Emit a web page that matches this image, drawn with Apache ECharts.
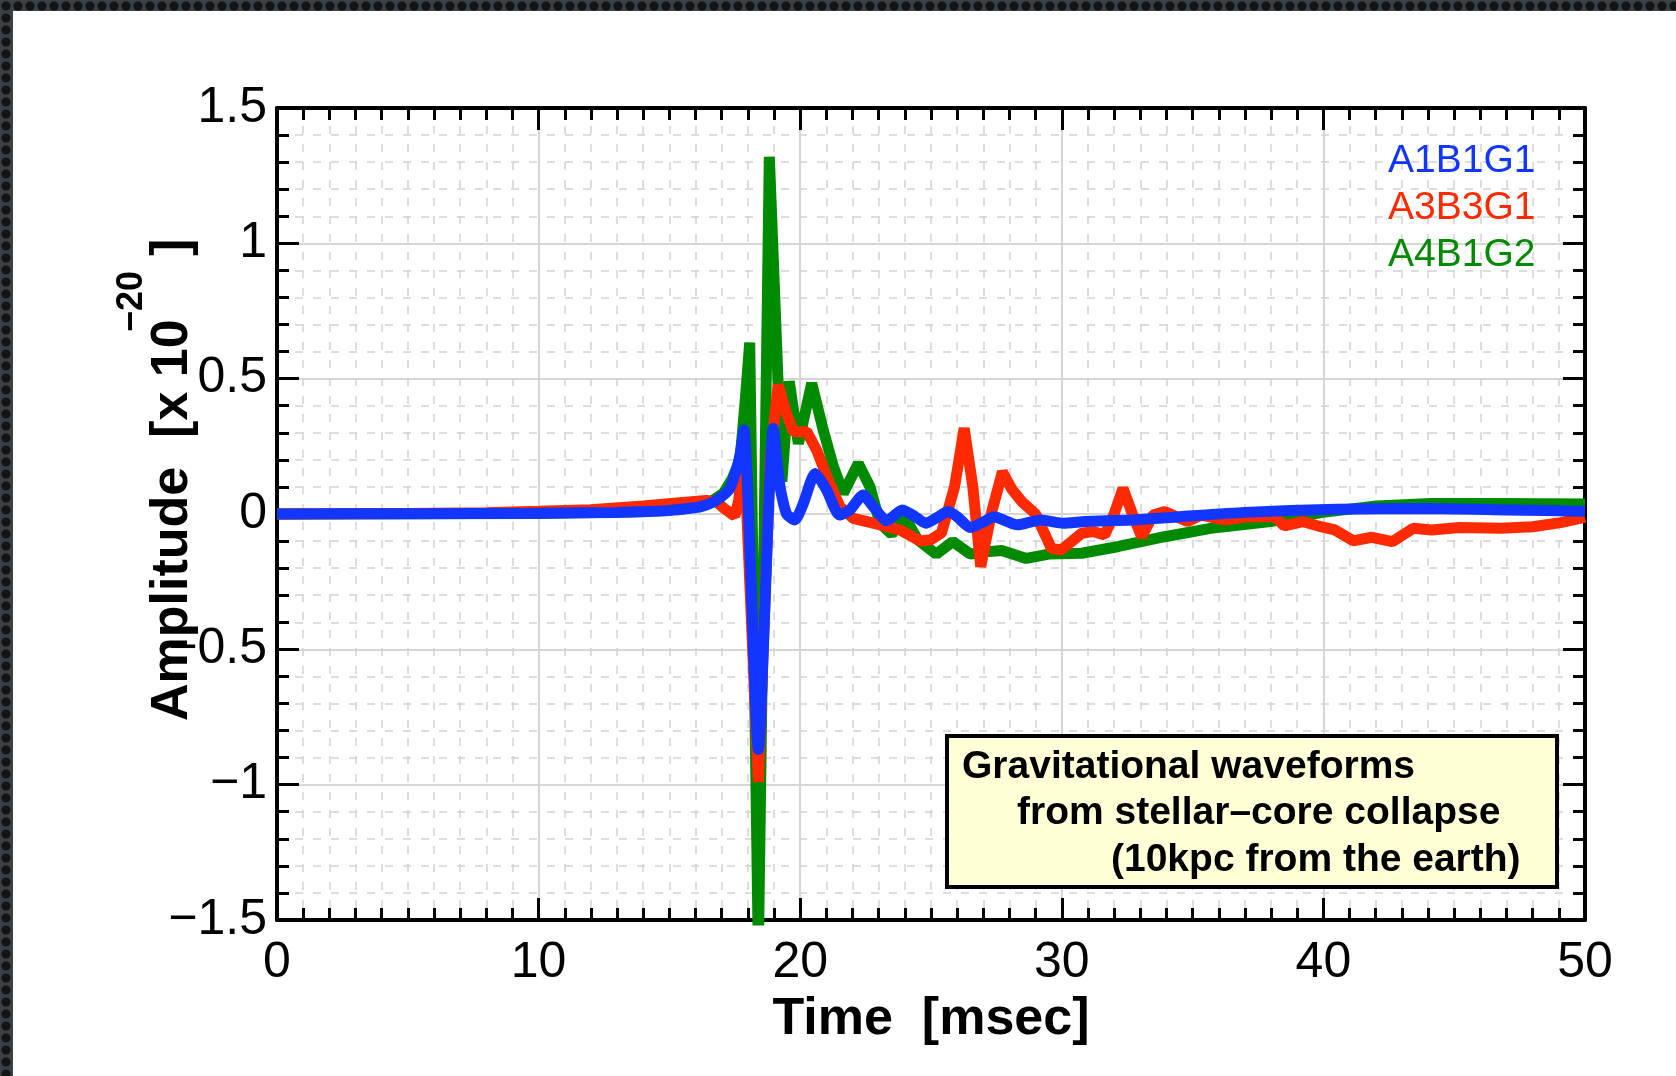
<!DOCTYPE html>
<html>
<head>
<meta charset="utf-8">
<script src="https://cdn.jsdelivr.net/npm/echarts@6/dist/echarts.min.js"></script>
<style>
html,body{margin:0;padding:0;background:#fff;overflow:hidden;}
#chart{width:1676px;height:1076px;}
</style>
</head>
<body>
<div id="chart"></div>
<script>
// ---------- data ----------
const seriesNames = ['A1B1G1', 'A3B3G1', 'A4B1G2'];

const tBlue = [0, 5, 10, 13, 14, 15, 15.8, 16.2, 16.7, 17.0, 17.3, 17.55, 17.7, 17.85, 18.4, 18.97, 19.23, 19.48, 19.8, 20.12, 20.57, 21.01, 21.5, 21.9, 22.4, 22.8, 23.3, 23.9, 24.4, 24.8, 25.2, 25.65, 26.0, 26.5, 27.0, 27.4, 28.3, 29.2, 30.05, 30.9, 32.7, 34.5, 37, 40.5, 44, 47, 50];
const vBlue = [0, 0.001, 0.003, 0.006, 0.009, 0.013, 0.021, 0.027, 0.045, 0.065, 0.092, 0.16, 0.22, 0.31, -0.87, 0.316, 0.10, 0.0, -0.022, 0.039, 0.15, 0.089, -0.004, 0.015, 0.07, 0.027, -0.025, 0.015, -0.01, -0.034, -0.015, 0.009, -0.01, -0.05, -0.03, -0.01, -0.04, -0.022, -0.034, -0.028, -0.022, -0.01, 0.006, 0.018, 0.02, 0.015, 0.01];

const tRed = [0, 5, 8, 10, 12, 14, 15.4, 16.4, 16.8, 17.1, 17.5, 17.65, 17.85, 18.4, 18.85, 19.16, 19.48, 19.74, 20.25, 20.63, 21.07, 21.52, 22.03, 22.79, 23.81, 24.6, 25.0, 25.4, 25.9, 26.27, 26.6, 26.9, 27.3, 27.73, 28.1, 28.47, 29.0, 29.6, 29.97, 30.4, 30.76, 31.2, 31.64, 32.0, 32.34, 32.7, 33.05, 33.49, 33.93, 34.8, 35.33, 36.2, 37.1, 38.15, 38.5, 39.2, 39.9, 40.44, 41.14, 41.85, 42.64, 43.43, 44.14, 45.2, 46.78, 48.0, 49.07, 50];
const vRed = [0, 0.002, 0.005, 0.01, 0.016, 0.03, 0.042, 0.05, 0.045, 0.02, -0.008, 0.05, 0.25, -0.99, 0.2, 0.477, 0.37, 0.304, 0.304, 0.236, 0.126, 0.027, -0.016, -0.034, -0.059, -0.10, -0.095, -0.07, 0.1, 0.317, 0.1, -0.195, 0.0, 0.156, 0.09, 0.046, 0.0, -0.127, -0.133, -0.1, -0.071, -0.065, -0.078, 0.0, 0.095, 0.0, -0.084, -0.004, 0.009, -0.028, -0.004, -0.022, -0.01, -0.01, -0.044, -0.028, -0.047, -0.059, -0.099, -0.086, -0.102, -0.053, -0.059, -0.05, -0.053, -0.047, -0.032, -0.012];

const tGreen = [0, 10, 14, 15.5, 16.5, 17.06, 17.4, 17.7, 17.9, 18.07, 18.4, 18.82, 19.3, 19.58, 19.93, 20.44, 20.88, 21.27, 21.65, 22.22, 22.67, 23.05, 23.5, 23.95, 24.5, 25.2, 25.83, 26.5, 27.1, 27.7, 28.64, 29.5, 30.76, 32.17, 33.93, 35.69, 37.98, 39.91, 42.02, 44.14, 46.78, 50];
const vGreen = [0, 0.002, 0.008, 0.018, 0.04, 0.076, 0.13, 0.2, 0.42, 0.633, -1.62, 1.32, 0.12, 0.49, 0.26, 0.483, 0.31, 0.175, 0.076, 0.187, 0.10, -0.034, -0.075, -0.004, -0.096, -0.148, -0.102, -0.148, -0.14, -0.135, -0.164, -0.148, -0.145, -0.12, -0.084, -0.053, -0.028, 0.005, 0.03, 0.039, 0.039, 0.037];

const xTickValues = [0, 10, 20, 30, 40, 50];
const yTickValues = [-1.5, -1, -0.5, 0, 0.5, 1, 1.5];
const xTitle = 'Time  [msec]';
const yTitleMain = 'Amplitude  [x 10';
const yTitleSup = '\u221220';
const yTitleEnd = ']';
const noteLines = ['Gravitational waveforms', 'from stellar\u2013core collapse', '(10kpc from the earth)'];

// ---------- styling ----------
const BLUE = '#1236ff', RED = '#ff2a00', GREEN = '#008a00';
const FONT = '"Liberation Sans", Arial, Helvetica, sans-serif';
const LW = 11;

function pairs(t, v) { return t.map((x, i) => [x, v[i]]); }

const pc = document.createElement('canvas');
pc.width = 12; pc.height = 12;
const g = pc.getContext('2d');
g.fillStyle = '#3b4045'; g.fillRect(0, 0, 12, 12);
g.fillStyle = '#121416'; g.beginPath(); g.arc(6, 6, 4.6, 0, Math.PI * 2); g.fill();

const axisLineCommon = { show: true, onZero: false, lineStyle: { color: '#000', width: 4 } };
const tickCommon = { show: true, inside: true, length: 22, lineStyle: { color: '#000', width: 3 } };
const minorTickCommon = { show: true, length: 12, lineStyle: { color: '#000', width: 3 } };
const minorSplit = { show: true, lineStyle: { color: '#d2d2d2', width: 1.5, type: [8, 10] } };
const majorSplit = { show: true, lineStyle: { color: '#d6d6d6', width: 2 } };

const xMin = xTickValues[0], xMax = xTickValues[xTickValues.length - 1], xInt = xTickValues[1] - xTickValues[0];
const yMin = yTickValues[0], yMax = yTickValues[yTickValues.length - 1], yInt = yTickValues[1] - yTickValues[0];

function yFmt(v) { return (v < 0 ? '\u2212' : '') + Math.abs(v); }

function txt(x, y, text, font, rot) {
  return { type: 'text', x: x, y: y, rotation: rot || 0, z: 100,
    style: { text: text, font: font, fill: '#000', textAlign: 'left', align: 'left', textVerticalAlign: 'middle', verticalAlign: 'middle' } };
}

const chart = echarts.init(document.getElementById('chart'), null, { renderer: 'canvas' });
chart.setOption({
  animation: false,
  backgroundColor: '#fff',
  grid: { left: 277, top: 108, right: 91, bottom: 156, containLabel: false },
  xAxis: [
    {
      type: 'value', position: 'bottom', min: xMin, max: xMax, interval: xInt,
      axisLine: axisLineCommon, axisTick: tickCommon,
      minorTick: Object.assign({ splitNumber: 10 }, minorTickCommon),
      splitLine: majorSplit, minorSplitLine: minorSplit,
      axisLabel: { fontSize: 50, color: '#000', margin: 18, fontFamily: FONT, showMinLabel: true, showMaxLabel: true },
      name: xTitle, nameLocation: 'middle', nameGap: 74,
      nameTextStyle: { fontSize: 52, fontWeight: 'bold', color: '#000', fontFamily: FONT }
    },
    {
      type: 'value', position: 'top', min: xMin, max: xMax, interval: xInt,
      axisLine: axisLineCommon, axisTick: tickCommon,
      minorTick: Object.assign({ splitNumber: 10 }, minorTickCommon),
      splitLine: { show: false }, axisLabel: { show: false }
    }
  ],
  yAxis: [
    {
      type: 'value', position: 'left', min: yMin, max: yMax, interval: yInt,
      axisLine: axisLineCommon, axisTick: tickCommon,
      minorTick: Object.assign({ splitNumber: 5 }, minorTickCommon),
      splitLine: majorSplit, minorSplitLine: minorSplit,
      axisLabel: { fontSize: 50, color: '#000', margin: 10, fontFamily: FONT, formatter: yFmt, showMinLabel: true, showMaxLabel: true }
    },
    {
      type: 'value', position: 'right', min: yMin, max: yMax, interval: yInt,
      axisLine: axisLineCommon, axisTick: tickCommon,
      minorTick: Object.assign({ splitNumber: 5 }, minorTickCommon),
      splitLine: { show: false }, axisLabel: { show: false }
    }
  ],
  legend: {
    data: [
      { name: seriesNames[0], textStyle: { color: BLUE } },
      { name: seriesNames[1], textStyle: { color: RED } },
      { name: seriesNames[2], textStyle: { color: GREEN } }
    ],
    orient: 'vertical', left: 1383, top: 138, icon: 'none',
    itemWidth: 0, itemHeight: 0, itemGap: 0, padding: 0, selectedMode: false,
    textStyle: { fontSize: 39, lineHeight: 47, fontFamily: FONT }
  },
  series: [
    { type: 'line', name: seriesNames[2], data: pairs(tGreen, vGreen), symbol: 'none', clip: true,
      lineStyle: { color: GREEN, width: LW }, itemStyle: { color: GREEN }, z: 3 },
    { type: 'line', name: seriesNames[1], data: pairs(tRed, vRed), symbol: 'none', clip: true,
      lineStyle: { color: RED, width: LW }, itemStyle: { color: RED }, z: 4 },
    { type: 'line', name: seriesNames[0], data: pairs(tBlue, vBlue), symbol: 'none', clip: true, smooth: 0.2,
      lineStyle: { color: BLUE, width: LW }, itemStyle: { color: BLUE }, z: 5 }
  ],
  graphic: [
    { type: 'rect', shape: { x: 0, y: 0, width: 1676, height: 11 }, style: { fill: { image: pc, repeat: 'repeat' } }, z: 100 },
    { type: 'rect', shape: { x: 0, y: 0, width: 13, height: 1076 }, style: { fill: { image: pc, repeat: 'repeat' } }, z: 100 },
    txt(173, 721, yTitleMain, 'bold 52px ' + FONT, Math.PI / 2),
    txt(132, 332, yTitleSup, 'bold 36px ' + FONT, Math.PI / 2),
    txt(173, 256, yTitleEnd, 'bold 52px ' + FONT, Math.PI / 2),
    { type: 'rect', shape: { x: 947, y: 736, width: 610, height: 151 }, z: 90,
      style: { fill: '#ffffd8', stroke: '#000', lineWidth: 4 } },
    txt(962, 767, noteLines[0], 'bold 39px ' + FONT),
    txt(1017, 813, noteLines[1], 'bold 39px ' + FONT),
    txt(1111, 860, noteLines[2], 'bold 39px ' + FONT)
  ]
});
</script>
</body>
</html>
